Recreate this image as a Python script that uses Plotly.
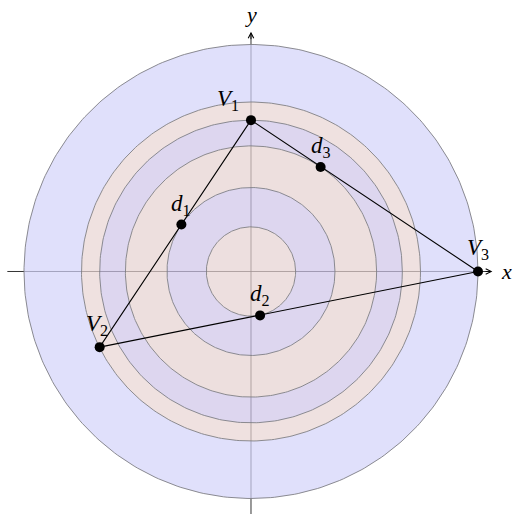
import numpy as np
import plotly.graph_objects as go

# points of the triangle and the feet of the perpendiculars
names = ["V<sub>1</sub>", "V<sub>2</sub>", "V<sub>3</sub>", "d<sub>1</sub>", "d<sub>2</sub>", "d<sub>3</sub>"]
px_ = [0, -2, 3, -0.92, 0.12, 0.92]
py_ = [2, -1, 0, 0.62, -0.58, 1.38]

# circle radii (outer to inner) and ring colours
radii = [3, 2.24, 2, 1.66, 1.11, 0.59]
ring_colors = [
    "rgba(211,211,249,0.7)",
    "rgba(232,212,211,0.7)",
    "rgba(206,196,232,0.7)",
    "rgba(229,209,208,0.7)",
    "rgba(206,196,232,0.7)",
    "rgba(229,209,209,0.7)",
]

# label offsets in px (x, y)
label_dx = [-23, -3, 0, 0, 0, 0]
label_dy = [20, 22, 22, 20, 20, 20]

theta = np.linspace(0, 2 * np.pi, 361)

fig = go.Figure()

# axes
ax_min, ax_max = -3.22, 3.17
ay_min, ay_max = -3.4, 3.15
fig.add_trace(go.Scatter(x=[ax_min, ax_max], y=[0, 0], mode="lines",
                         line=dict(color="black", width=0.8), hoverinfo="skip"))
fig.add_trace(go.Scatter(x=[0, 0], y=[ay_min, ay_max], mode="lines",
                         line=dict(color="black", width=0.8), hoverinfo="skip"))

# filled rings (annuli) so each pixel is covered once
for i, r in enumerate(radii):
    if i + 1 < len(radii):
        r_in = radii[i + 1]
        xs = np.concatenate([r * np.cos(theta), r_in * np.cos(theta[::-1])])
        ys = np.concatenate([r * np.sin(theta), r_in * np.sin(theta[::-1])])
    else:
        xs = r * np.cos(theta)
        ys = r * np.sin(theta)
    fig.add_trace(go.Scatter(x=xs, y=ys, mode="none", fill="toself",
                             fillcolor=ring_colors[i], hoverinfo="skip"))

# circle outlines
for r in radii:
    fig.add_trace(go.Scatter(x=r * np.cos(theta), y=r * np.sin(theta), mode="lines",
                             line=dict(color="#7f7f85", width=0.9), hoverinfo="skip"))

# triangle
fig.add_trace(go.Scatter(x=[px_[0], px_[1], px_[2], px_[0]],
                         y=[py_[0], py_[1], py_[2], py_[0]],
                         mode="lines", line=dict(color="black", width=1.1),
                         hoverinfo="skip"))

# points
fig.add_trace(go.Scatter(x=px_, y=py_, mode="markers",
                         marker=dict(color="black", size=10), hoverinfo="skip"))

for n, x, y, dx, dy in zip(names, px_, py_, label_dx, label_dy):
    fig.add_annotation(x=x, y=y, text="<i>" + n[0] + "</i>" + n[1:], showarrow=False,
                       xshift=dx, yshift=dy,
                       font=dict(family="Liberation Serif", size=23, color="black"))

# arrow heads
fig.add_annotation(x=3.19, y=0, ax=3.08, ay=0, xref="x", yref="y", axref="x", ayref="y",
                   text="", showarrow=True, arrowhead=5, arrowsize=1.2, arrowwidth=0.9,
                   arrowcolor="black")
fig.add_annotation(x=0, y=3.17, ax=0, ay=3.05, xref="x", yref="y", axref="x", ayref="y",
                   text="", showarrow=True, arrowhead=5, arrowsize=1.2, arrowwidth=0.9,
                   arrowcolor="black")

# axis labels
fig.add_annotation(x=3.38, y=0, text="<i>x</i>", showarrow=False,
                   font=dict(family="Liberation Serif", size=22, color="black"))
fig.add_annotation(x=0, y=3.4, text="<i>y</i>", showarrow=False,
                   font=dict(family="Liberation Serif", size=22, color="black"))

fig.update_layout(
    width=515, height=514,
    margin=dict(l=0, r=0, t=0, b=0),
    showlegend=False,
    plot_bgcolor="white", paper_bgcolor="white",
    xaxis=dict(range=[-3.317, 3.489], visible=False),
    yaxis=dict(range=[-3.205, 3.588], visible=False),
)

# drop the default page margin so the figure fills the window exactly
fig.write_html("out.html", config={"displayModeBar": False},
               post_script="document.body.style.margin='0';document.body.style.overflow='hidden';")
